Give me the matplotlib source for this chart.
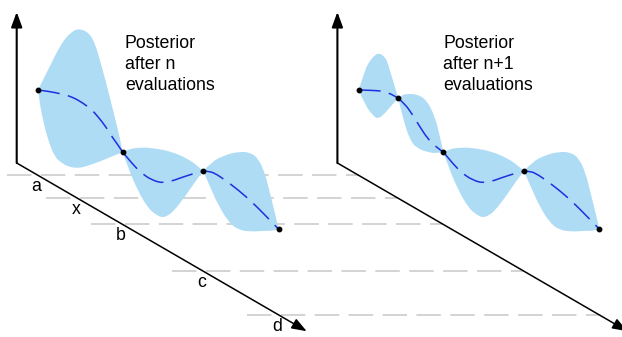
import matplotlib.pyplot as plt
from matplotlib.transforms import Affine2D
from matplotlib.path import Path
from matplotlib.patches import PathPatch

plt.rcParams['font.family'] = ['Liberation Sans', 'DejaVu Sans']
plt.rcParams['lines.scale_dashes'] = False

# oblique projection: x runs down the page along the slanted axis, values go straight up
SLOPE = 0.58
ORIGIN_Y = 163.0
PANEL_X = [16.7, 337.4]
X_AXIS_LEN = 290.0
Y_AXIS_LEN = 151.0

TICK_LABELS = ['a', 'x', 'b', 'c', 'd']
TICK_POS = [21.3, 60.9, 106.0, 186.6, 262.0]

# evaluated points
EVAL_N_X = [21.3, 106.0, 186.6, 262.0]
EVAL_N_Y = [85.4, 72.3, 100.2, 85.7]
EVAL_N1_X = [21.3, 60.9, 106.0, 186.6, 262.0]
EVAL_N1_Y = [85.4, 100.0, 72.3, 100.2, 85.7]

# credible band (upper / lower edge) and posterior mean between evaluations, as (x, value)
AB_UPPER = [(21.3, 85.4), (31.3, 111.2), (44.6, 145.6), (54.6, 163.0), (63.0, 171.2),
            (73.0, 172.0), (78.0, 164.9), (81.3, 156.9), (89.6, 131.7), (96.3, 108.9),
            (103.0, 86.0), (106.0, 72.3)]
AB_LOWER = [(21.3, 85.4), (23.3, 71.5), (26.3, 58.3), (31.3, 41.2), (38.0, 28.3),
            (44.3, 26.2), (51.3, 26.1), (61.3, 30.3), (69.3, 36.9), (78.0, 44.9),
            (86.3, 52.8), (94.6, 61.2), (106.0, 72.3)]
AB_MEAN = [(21.3, 85.4), (33.3, 90.8), (44.6, 94.9), (53.0, 97.7), (63.3, 98.7),
           (74.6, 97.0), (81.3, 93.5), (89.3, 87.8), (96.3, 80.6), (101.3, 76.8),
           (106.0, 72.3)]

BC_UPPER = [(106.0, 72.3), (111.6, 78.7), (125.0, 88.2), (138.3, 94.9), (155.0, 101.2),
            (170.0, 103.3), (180.0, 102.4), (186.6, 100.2)]
BC_LOWER = [(106.0, 72.3), (111.6, 59.4), (121.6, 41.8), (131.6, 31.0), (138.3, 29.2),
            (145.0, 29.4), (150.3, 34.2), (156.6, 42.1), (168.3, 63.9), (178.3, 84.7),
            (186.6, 100.2)]
BC_MEAN = [(106.0, 72.3), (116.6, 65.6), (125.0, 62.2), (135.0, 61.3), (146.6, 64.7),
           (158.3, 74.8), (171.6, 87.5), (186.6, 100.2)]

CD_UPPER = [(186.6, 100.2), (195.0, 114.4), (208.3, 128.8), (221.6, 139.8), (233.3, 146.0),
            (241.6, 144.8), (248.3, 133.7), (253.3, 116.6), (258.3, 99.5), (262.0, 85.7)]
CD_LOWER = [(186.6, 100.2), (193.3, 88.4), (201.6, 74.9), (211.6, 64.0), (221.6, 61.5),
            (235.0, 67.6), (248.3, 76.3), (255.3, 80.1), (262.0, 85.7)]
CD_MEAN = [(186.6, 100.2), (192.3, 103.2), (198.3, 104.7), (208.3, 103.8), (221.6, 101.5),
           (235.0, 97.6), (248.3, 92.0), (262.0, 85.7)]

# after the extra evaluation at x
AX_UPPER = [(21.3, 85.4), (27.6, 109.0), (31.6, 119.3), (35.9, 127.1), (40.9, 134.0),
            (47.6, 133.9), (51.1, 127.6), (54.3, 117.8), (57.6, 109.4), (60.9, 100.0)]
AX_LOWER = [(21.3, 85.4), (27.6, 74.0), (35.9, 67.8), (40.9, 67.7), (47.6, 77.3),
            (54.3, 89.5), (60.9, 100.0)]
AX_MEAN = [(21.3, 85.4), (31.3, 90.9), (45.9, 98.6), (55.9, 100.4), (60.9, 100.0)]

XB_UPPER = [(60.9, 100.0), (64.6, 105.5), (69.3, 109.2), (79.3, 115.0), (89.3, 114.8),
            (97.6, 102.9), (102.6, 85.8), (106.0, 72.3)]
XB_LOWER = [(60.9, 100.0), (65.9, 81.2), (72.6, 65.1), (79.3, 60.7), (92.6, 63.9),
            (99.3, 67.6), (106.0, 72.3)]
XB_MEAN = [(60.9, 100.0), (67.6, 98.2), (74.6, 92.3), (82.6, 83.9), (90.6, 76.5),
           (98.6, 73.2), (106.0, 72.3)]

TITLES = [["Posterior", "after n", "evaluations"],
          ["Posterior", "after n+1", "evaluations"]]

BAND = '#aedcf5'
MEAN = '#1f2fe0'
GRID = '#c8c8c8'
FS = 12.8


def projection(ox):
    return Affine2D.from_values(1, SLOPE, 0, -1, ox, ORIGIN_Y)


def curve(pts, start=True):
    # quadratic spline using the listed points as control points
    verts, codes = [], []
    if start:
        verts.append(pts[0])
        codes.append(Path.MOVETO)
    if len(pts) == 2:
        return verts + [pts[1]], codes + [Path.LINETO]
    for k in range(1, len(pts) - 1):
        if k < len(pts) - 2:
            end = ((pts[k][0] + pts[k + 1][0]) / 2, (pts[k][1] + pts[k + 1][1]) / 2)
        else:
            end = pts[-1]
        verts += [pts[k], end]
        codes += [Path.CURVE3, Path.CURVE3]
    return verts, codes


fig = plt.figure(figsize=(6.22, 3.37), dpi=100)
ax = fig.add_axes([0, 0, 1, 1])
ax.set_xlim(0, 622)
ax.set_ylim(337, 0)
ax.axis('off')

left, right = projection(PANEL_X[0]), projection(PANEL_X[1])

# depth guides running from the left x axis over to the right one
for t in TICK_POS:
    x0, y = left.transform((t, 0))
    x1, _ = right.transform((t, 0))
    ax.hlines(y, x0 - 31.5, x1, colors=GRID, lw=1.1,
              linestyles=[(0, (17.6, 6.8))], zorder=1)

panels = [
    (EVAL_N_X, EVAL_N_Y, [(AB_UPPER, AB_LOWER, AB_MEAN), (BC_UPPER, BC_LOWER, BC_MEAN),
                          (CD_UPPER, CD_LOWER, CD_MEAN)]),
    (EVAL_N1_X, EVAL_N1_Y, [(AX_UPPER, AX_LOWER, AX_MEAN), (XB_UPPER, XB_LOWER, XB_MEAN),
                            (BC_UPPER, BC_LOWER, BC_MEAN), (CD_UPPER, CD_LOWER, CD_MEAN)]),
]

for i, (ex, ey, lobes) in enumerate(panels):
    proj = projection(PANEL_X[i])
    tr = proj + ax.transData

    arrow = dict(arrowstyle='-|>,head_length=0.6,head_width=0.22', mutation_scale=15,
                 color='black', shrinkA=0, shrinkB=0)
    ax.annotate('', xy=(0, Y_AXIS_LEN), xytext=(0, 0), xycoords=tr, textcoords=tr,
                arrowprops=dict(arrow, lw=1.5), zorder=1.5)
    ax.annotate('', xy=(X_AXIS_LEN, 0), xytext=(0, 0), xycoords=tr, textcoords=tr,
                arrowprops=dict(arrow, lw=1.1), zorder=1.5)

    for upper, lower, mean in lobes:
        v1, c1 = curve(upper)
        v2, c2 = curve(lower[::-1], start=False)
        band = Path(v1 + v2 + [upper[0]], c1 + c2 + [Path.CLOSEPOLY])
        ax.add_patch(PathPatch(band, transform=tr, facecolor=BAND, lw=0, zorder=2))
        vm, cm = curve(mean)
        ax.add_patch(PathPatch(Path(vm, cm), transform=tr, fill=False, edgecolor=MEAN,
                               lw=1.1, linestyle=(0, (15.8, 6.1)), zorder=3))

    ax.plot(ex, ey, 'o', ms=3.2, color='black', transform=tr, zorder=4)

    tx = 125 + (PANEL_X[i] - PANEL_X[0]) - 2.4 * i
    for j, line in enumerate(TITLES[i]):
        ax.text(tx, 48.5 + 20.8 * j, line, fontsize=FS, ha='left', va='baseline')

# tick letters under the left x axis
ltr = left + ax.transData
for lab, t in zip(TICK_LABELS, TICK_POS):
    ax.text(t - 1.5, -16.5, lab, transform=ltr, fontsize=FS, ha='center', va='baseline')

fig.savefig('out.png', dpi=100)
